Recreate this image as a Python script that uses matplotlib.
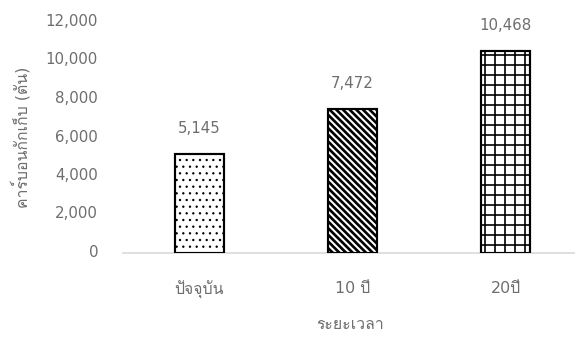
import matplotlib
matplotlib.use("Agg")
import matplotlib.pyplot as plt
import matplotlib.transforms as mtransforms
from matplotlib import font_manager as fm

# ---- data -------------------------------------------------------------
categories = ["ปัจจุบัน", "10 ปี", "20ปี"]
values = [5145, 7472, 10468]
value_labels = ["5,145", "7,472", "10,468"]
yticks = [0, 2000, 4000, 6000, 8000, 10000, 12000]
ytick_labels = ["0", "2,000", "4,000", "6,000", "8,000", "10,000", "12,000"]
xlabel = "ระยะเวลา"
ylabel = "คาร์บอนกักเก็บ (ตัน)"

# fill pattern and pattern stroke width (points) for each bar
hatches = ["...", "\\" * 6, "++"]
hatch_widths = [0.6, 1.6, 1.0]


def find_thai_family():
    """Return the name of an installed font that covers the Thai block."""
    try:
        from fontTools.ttLib import TTFont
    except Exception:
        return None
    for entry in fm.fontManager.ttflist:
        try:
            kw = {"fontNumber": 0} if entry.fname.lower().endswith(".ttc") else {}
            tt = TTFont(entry.fname, lazy=True, **kw)
            cmap = tt.getBestCmap() or {}
            if 0x0E1B in cmap and 0x0E31 in cmap:
                return entry.name
        except Exception:
            continue
    return None


thai = find_thai_family()
families = ["DejaVu Sans"] + ([thai] if thai else [])
plt.rcParams["font.family"] = families

DPI = 120
fig = plt.figure(figsize=(575 / DPI, 337 / DPI), dpi=DPI)
ax = fig.add_axes([123 / 575, 1 - 253 / 337, 459 / 575, 231 / 337])

text_color = "#6e6e6e"
x = list(range(len(categories)))
for xi, v, h, hw in zip(x, values, hatches, hatch_widths):
    with plt.rc_context({"hatch.linewidth": hw}):
        bar = ax.bar(xi, v, width=0.32, color="white", edgecolor="black",
                     linewidth=1.3, hatch=h, zorder=3)[0]
    if hasattr(bar, "set_hatch_linewidth"):
        bar.set_hatch_linewidth(hw)

for xi, v, lab in zip(x, values, value_labels):
    ax.annotate(lab, (xi, v), xytext=(0, 11), textcoords="offset points",
                ha="center", va="bottom", fontsize=9, color=text_color)

ax.set_xlim(-0.5, 2.5)
ax.set_ylim(0, 12000)
ax.set_yticks(yticks)
ax.set_yticklabels(ytick_labels)
ax.set_xticks(x)
ax.set_xticklabels(categories)
ax.tick_params(axis="y", length=0, pad=15, labelsize=9, labelcolor=text_color)
ax.tick_params(axis="x", length=0, pad=17, labelsize=9.5, labelcolor=text_color)

# nudge the value-axis labels slightly upward
shift = mtransforms.ScaledTranslation(0, 2 / DPI, fig.dpi_scale_trans)
for lbl in ax.get_yticklabels():
    lbl.set_transform(lbl.get_transform() + shift)

for s in ("left", "right", "top"):
    ax.spines[s].set_visible(False)
ax.spines["bottom"].set_color("#d9d9d9")
ax.spines["bottom"].set_linewidth(1.0)

ax.set_xlabel(xlabel, fontsize=9.5, color=text_color)
ax.xaxis.set_label_coords((350 - 123) / 459, (253 - 317) / 231)
ax.set_ylabel(ylabel, fontsize=9.5, color=text_color)
ax.yaxis.set_label_coords((30 - 123) / 459, (253 - 137) / 231)

fig.savefig("out.png", dpi=DPI)
